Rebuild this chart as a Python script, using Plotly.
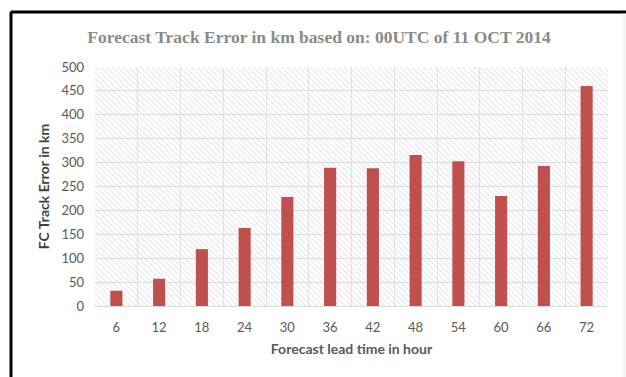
import plotly.graph_objects as go

# Forecast lead times (hours) and track errors (km)
lead_hours = [6, 12, 18, 24, 30, 36, 42, 48, 54, 60, 66, 72]
track_error_km = [32, 57, 119, 163, 228, 289, 288, 316, 303, 230, 293, 460]
y_ticks = [0, 50, 100, 150, 200, 250, 300, 350, 400, 450, 500]

TITLE = "Forecast Track Error in km based on: 00UTC of 11 OCT 2014"
X_TITLE = "Forecast lead time in hour"
Y_TITLE = "FC Track Error in km"

x_lo, x_hi = lead_hours[0] - 3, lead_hours[-1] + 3
y_lo, y_hi = y_ticks[0], y_ticks[-1]

fig = go.Figure()

# hatched plot-area background, drawn as one full-width bar beneath the data bars
fig.add_trace(go.Bar(
    x=[(x_lo + x_hi) / 2],
    y=[y_hi - y_lo],
    base=[y_lo],
    width=[x_hi - x_lo],
    marker=dict(
        color="rgba(0,0,0,0)",
        line=dict(width=0),
        pattern=dict(shape="\\", fgcolor="#d4d4d4", bgcolor="rgba(255,255,255,0)",
                     size=4, solidity=0.35),
    ),
    hoverinfo="skip",
    showlegend=False,
))

fig.add_trace(go.Bar(
    x=lead_hours,
    y=track_error_km,
    width=1.7,
    marker=dict(color="#c0504d", line=dict(width=0)),
    showlegend=False,
))

fig.update_layout(
    width=626,
    height=377,
    margin=dict(l=95, r=18, t=67, b=71),
    paper_bgcolor="white",
    plot_bgcolor="white",
    barmode="overlay",
    title=dict(
        text=f"<b>{TITLE}</b>",
        x=(319 / 626), xanchor="center",
        y=1 - 37 / 377, yanchor="middle",
        font=dict(family="Liberation Serif, DejaVu Serif, serif", size=17.5, color="#8a8a8a"),
    ),
    font=dict(family="Lato, Open Sans, sans-serif", color="#595959", size=12),
)

fig.update_xaxes(
    range=[x_lo, x_hi],
    tickmode="array",
    tickvals=lead_hours,
    ticktext=[str(h) for h in lead_hours],
    ticks="",
    showgrid=False,
    minor=dict(tick0=x_lo, dtick=6, showgrid=True, gridcolor="#e3e3e3", gridwidth=1),
    showline=True,
    linecolor="#d9d9d9",
    linewidth=1,
    zeroline=False,
    ticklabelstandoff=9,
    tickfont=dict(size=13, color="#595959"),
    title=dict(text=f"<b>{X_TITLE}</b>", font=dict(size=14, color="#595959"), standoff=10),
)

fig.update_yaxes(
    range=[y_lo, y_hi],
    tickmode="array",
    tickvals=y_ticks,
    ticktext=[str(v) for v in y_ticks],
    ticks="",
    showgrid=True,
    gridcolor="#dedede",
    gridwidth=1,
    zeroline=False,
    showline=False,
    tickfont=dict(size=13, color="#595959"),
    ticklabelstandoff=10,
    title=dict(text=f"<b>{Y_TITLE}</b>", font=dict(size=14, color="#404040"), standoff=8),
)

# outer frame of the chart
fig.add_shape(type="line", xref="paper", yref="paper",
              x0=-84.5 / 513, x1=1 + 18 / 513, y0=1 + 55 / 239, y1=1 + 55 / 239,
              line=dict(color="black", width=3), layer="above")
fig.add_shape(type="line", xref="paper", yref="paper",
              x0=-84 / 513, x1=-84 / 513, y0=1 + 55 / 239, y1=-71 / 239,
              line=dict(color="black", width=3), layer="above")
fig.add_shape(type="line", xref="paper", yref="paper",
              x0=1 + 16 / 513, x1=1 + 16 / 513, y0=1 + 54 / 239, y1=-71 / 239,
              line=dict(color="#e6e6e6", width=1), layer="above")

fig.write_html("out.html")
